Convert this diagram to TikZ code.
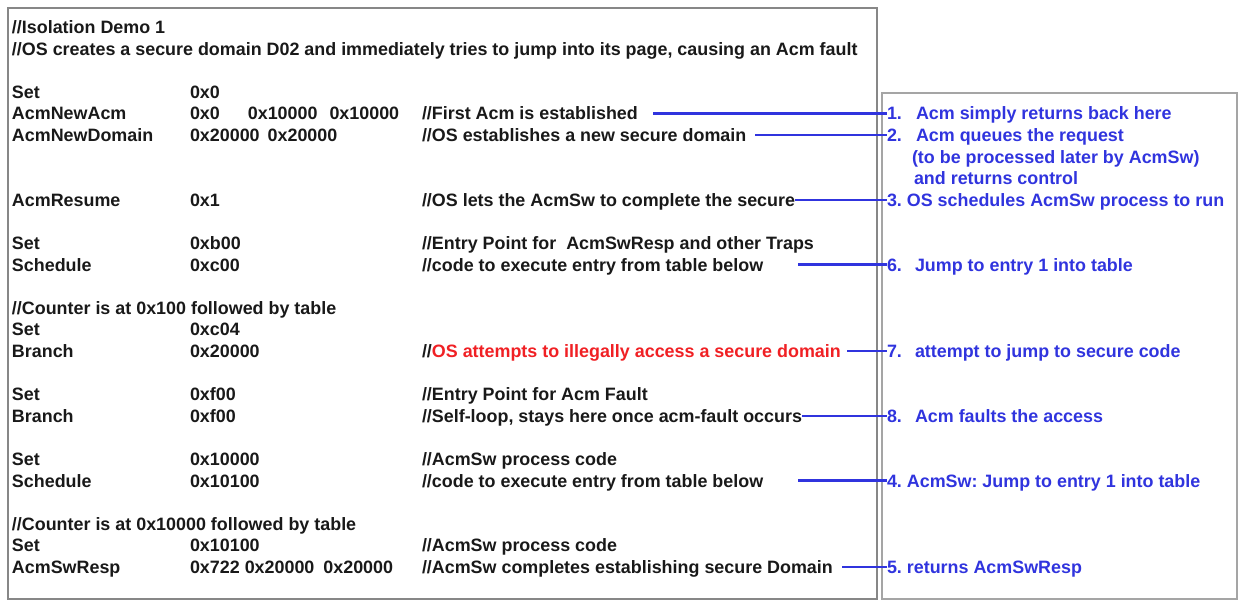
\documentclass[tikz,border=0pt]{standalone}
\usepackage{fontspec}
\setmainfont{Liberation Sans}
\definecolor{txt}{RGB}{25,25,25}
\definecolor{lblue}{RGB}{48,52,222}
\definecolor{tred}{RGB}{240,32,36}
\definecolor{bgray}{RGB}{135,135,135}
\definecolor{bgray2}{RGB}{165,165,165}
\tikzset{
  code/.style={anchor=base west, inner sep=0pt, outer sep=0pt,
    font=\fontsize{17.9}{21}\selectfont\bfseries\frenchspacing, text=txt},
  note/.style={code, text=lblue},
  link/.style={draw=lblue, line width=2.3pt},
  leftbox/.style={draw=bgray, line width=1.9pt},
  rightbox/.style={draw=bgray2, line width=1.5pt}
}
\begin{document}
\begin{tikzpicture}[x=1pt,y=-1pt]
\useasboundingbox (0,0) rectangle (1238,601);
% boxes
\draw[leftbox] (8,8) rectangle (877,599);
\draw[rightbox] (882,93) rectangle (1237,599);
% header
\node[code] (h0) at (12,33.5) {//Isolation Demo 1};
\node[code] (h1) at (12,55.1) {//OS creates a secure domain D02 and immediately tries to jump into its page, causing an Acm fault};
% column 1
\node[code] (a3)  at (12,98.3)  {Set};
\node[code] (a4)  at (12,119.9) {AcmNewAcm};
\node[code] (a5)  at (12,141.5) {AcmNewDomain};
\node[code] (a8)  at (12,206.3) {AcmResume};
\node[code] (a10) at (12,249.5) {Set};
\node[code] (a11) at (12,271.1) {Schedule};
\node[code] (a13) at (12,314.3) {//Counter is at 0x100 followed by table};
\node[code] (a14) at (12,335.9) {Set};
\node[code] (a15) at (12,357.5) {Branch};
\node[code] (a17) at (12,400.7) {Set};
\node[code] (a18) at (12,422.3) {Branch};
\node[code] (a20) at (12,465.5) {Set};
\node[code] (a21) at (12,487.1) {Schedule};
\node[code] (a23) at (12,530.3) {//Counter is at 0x10000 followed by table};
\node[code] (a24) at (12,551.9) {Set};
\node[code] (a25) at (12,573.5) {AcmSwResp};
% column 2
\node[code] (b3)  at (190,98.3)  {0x0};
\node[code] (b4)  at (190,119.9) {0x0\hspace{28pt}0x10000\hspace{12pt}0x10000};
\node[code] (b5)  at (190,141.5) {0x20000\hspace{8pt}0x20000};
\node[code] (b8)  at (190,206.3) {0x1};
\node[code] (b10) at (190,249.5) {0xb00};
\node[code] (b11) at (190,271.1) {0xc00};
\node[code] (b14) at (190,335.9) {0xc04};
\node[code] (b15) at (190,357.5) {0x20000};
\node[code] (b17) at (190,400.7) {0xf00};
\node[code] (b18) at (190,422.3) {0xf00};
\node[code] (b20) at (190,465.5) {0x10000};
\node[code] (b21) at (190,487.1) {0x10100};
\node[code] (b24) at (190,551.9) {0x10100};
\node[code] (b25) at (190,573.5) {0x722\hspace{5pt}0x20000\hspace{9pt}0x20000};
% column 3 (comments)
\node[code] (t4)  at (422,119.9) {//First Acm is established};
\node[code] (t5)  at (422,141.5) {//OS establishes a new secure domain};
\node[code] (t8)  at (422,206.3) {//OS lets the AcmSw to complete the secure};
\node[code] (t10) at (422,249.5) {//Entry Point for\hspace{10pt}AcmSwResp and other Traps};
\node[code] (t11) at (422,271.1) {//code to execute entry from table below};
\node[code] (t15) at (422,357.5) {//\textcolor{tred}{OS attempts to illegally access a secure domain}};
\node[code] (t17) at (422,400.7) {//Entry Point for Acm Fault};
\node[code] (t18) at (422,422.3) {//Self-loop, stays here once acm-fault occurs};
\node[code] (t20) at (422,465.5) {//AcmSw process code};
\node[code] (t21) at (422,487.1) {//code to execute entry from table below};
\node[code] (t24) at (422,551.9) {//AcmSw process code};
\node[code] (t25) at (422,573.5) {//AcmSw completes establishing secure Domain};
% right notes
\node[note] (r1)  at (887,119.9) {\makebox[29pt][l]{1.}Acm simply returns back here};
\node[note] (r2)  at (887,141.5) {\makebox[29pt][l]{2.}Acm queues the request};
\node[note] (r2b) at (912,163.1) {(to be processed later by AcmSw)};
\node[note] (r2c) at (914,184.7) {and returns control};
\node[note] (r3)  at (887,206.3) {3. OS schedules AcmSw process to run};
\node[note] (r6)  at (887,271.1) {\makebox[28pt][l]{6.}Jump to entry 1 into table};
\node[note] (r7)  at (887,357.5) {\makebox[28pt][l]{7.}attempt to jump to secure code};
\node[note] (r8)  at (887,422.3) {\makebox[28pt][l]{8.}Acm faults the access};
\node[note] (r4)  at (887,487.1) {4. AcmSw: Jump to entry 1 into table};
\node[note] (r5)  at (887,573.5) {5. returns AcmSwResp};
% connector start points
\coordinate (c4)  at (653,113.4);
\coordinate (c5)  at (755,135);
\coordinate (c8)  at (t8.east |- 0,199.8);
\coordinate (c11) at (798,264.6);
\coordinate (c15) at (847,351);
\coordinate (c18) at (t18.east |- 0,415.8);
\coordinate (c21) at (798,480.6);
\coordinate (c25) at (842,567);
% connectors
\draw[link] (c4)  -- (c4 -| r1.west);
\draw[link] (c5)  -- (c5 -| r2.west);
\draw[link] (c8)  -- (c8 -| r3.west);
\draw[link] (c11) -- (c11 -| r6.west);
\draw[link] (c15) -- (c15 -| r7.west);
\draw[link] (c18) -- (c18 -| r8.west);
\draw[link] (c21) -- (c21 -| r4.west);
\draw[link] (c25) -- (c25 -| r5.west);
\end{tikzpicture}
\end{document}
